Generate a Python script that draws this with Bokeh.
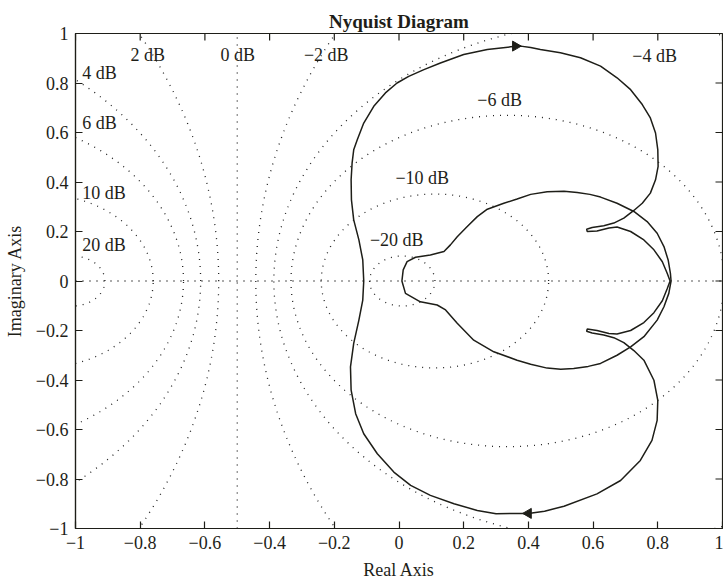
import numpy as np
from bokeh.plotting import figure
from bokeh.models import Range1d, FixedTicker, LinearAxis
from bokeh.core.properties import value
from bokeh.embed import file_html
from bokeh.resources import INLINE

title_text = "Nyquist Diagram"
x_label = "Real Axis"
y_label = "Imaginary Axis"
tick_values = [-1, -0.8, -0.6, -0.4, -0.2, 0, 0.2, 0.4, 0.6, 0.8, 1]
tick_labels = ["−1", "−0.8", "−0.6", "−0.4", "−0.2", "0", "0.2", "0.4", "0.6", "0.8", "1"]

# constant closed-loop magnitude contours (dB)
m_db = [20, 10, 6, 4, 2, 0, -2, -4, -6, -10, -20]
db_text = ["20 dB", "10 dB", "6 dB", "4 dB", "2 dB", "0 dB", "−2 dB", "−4 dB", "−6 dB", "−10 dB", "−20 dB"]
db_label_re = [-0.979, -0.979, -0.979, -0.979, -0.830, -0.552, -0.294, 0.721, 0.242, -0.011, -0.090]
db_label_im = [0.146, 0.356, 0.640, 0.842, 0.915, 0.915, 0.915, 0.908, 0.733, 0.416, 0.166]

# Nyquist curve, outer loop (upper half: left crossing -> top -> hairpin -> right crossing)
outer_upper_re = [-0.109, -0.112, -0.124, -0.140, -0.147, -0.148, -0.145, -0.140, -0.129, -0.109,
                  -0.078, -0.042, -0.006, 0.030, 0.077, 0.128, 0.200, 0.273, 0.345, 0.376,
                  0.407, 0.437, 0.499, 0.561, 0.623, 0.674, 0.716, 0.752, 0.777, 0.793,
                  0.800, 0.801, 0.793, 0.777, 0.752, 0.726, 0.695, 0.664, 0.633, 0.597,
                  0.580, 0.582, 0.612, 0.649, 0.674, 0.716, 0.757, 0.788, 0.814, 0.829, 0.838]
outer_upper_im = [0.000, 0.085, 0.166, 0.247, 0.328, 0.409, 0.476, 0.530, 0.571, 0.638,
                  0.706, 0.760, 0.800, 0.827, 0.854, 0.881, 0.915, 0.935, 0.946, 0.949,
                  0.943, 0.935, 0.922, 0.902, 0.868, 0.821, 0.773, 0.713, 0.659, 0.598,
                  0.530, 0.463, 0.409, 0.355, 0.314, 0.285, 0.254, 0.234, 0.223, 0.216,
                  0.209, 0.200, 0.202, 0.214, 0.218, 0.200, 0.166, 0.126, 0.078, 0.031, 0.000]
# outer loop, lower half (right crossing -> hairpin -> bottom -> left crossing)
outer_lower_re = [0.838, 0.829, 0.814, 0.788, 0.757, 0.716, 0.674, 0.649, 0.612, 0.582,
                  0.580, 0.597, 0.633, 0.664, 0.695, 0.726, 0.757, 0.788, 0.800, 0.798,
                  0.782, 0.746, 0.685, 0.612, 0.510, 0.450, 0.400, 0.300, 0.242, 0.170,
                  0.097, 0.036, -0.016, -0.067, -0.109, -0.134, -0.148, -0.150, -0.140, -0.124,
                  -0.112, -0.109]
outer_lower_im = [0.000, -0.031, -0.080, -0.128, -0.168, -0.200, -0.214, -0.212, -0.200, -0.194,
                  -0.203, -0.210, -0.218, -0.229, -0.249, -0.281, -0.320, -0.401, -0.482, -0.563,
                  -0.644, -0.725, -0.806, -0.860, -0.910, -0.930, -0.939, -0.940, -0.927, -0.900,
                  -0.866, -0.826, -0.772, -0.698, -0.617, -0.536, -0.441, -0.347, -0.252, -0.158,
                  -0.077, 0.000]
# inner lobe (upper: right crossing -> left crossing; lower: back)
inner_upper_re = [0.841, 0.839, 0.832, 0.819, 0.798, 0.767, 0.726, 0.674, 0.623, 0.590,
                  0.551, 0.510, 0.458, 0.407, 0.365, 0.324, 0.273, 0.242, 0.211, 0.180,
                  0.159, 0.139, 0.097, 0.051, 0.025, 0.013, 0.009]
inner_upper_im = [0.000, 0.031, 0.085, 0.139, 0.193, 0.240, 0.281, 0.314, 0.339, 0.350,
                  0.358, 0.363, 0.361, 0.350, 0.331, 0.314, 0.290, 0.260, 0.220, 0.179,
                  0.146, 0.119, 0.105, 0.096, 0.078, 0.045, 0.000]
inner_lower_re = [0.009, 0.020, 0.066, 0.118, 0.144, 0.180, 0.231, 0.293, 0.365, 0.407,
                  0.458, 0.500, 0.540, 0.585, 0.623, 0.674, 0.716, 0.757, 0.798, 0.819,
                  0.834, 0.841]
inner_lower_im = [0.000, -0.050, -0.084, -0.097, -0.117, -0.171, -0.239, -0.286, -0.320, -0.336,
                  -0.352, -0.357, -0.354, -0.345, -0.333, -0.300, -0.266, -0.225, -0.158, -0.104,
                  -0.050, 0.000]

# direction arrows
arrow_re = [0.360, 0.400]
arrow_im = [0.949, -0.939]
arrow_angle_deg = [-90, 90]

FONT = "Liberation Serif"
INK = "#1e1e18"
DOT = "#222222"

W, H = 723, 583
FL, FR, FT, FB = 75, 722, 33, 528      # frame edges (px)
px_x = 2.0 / (FR - FL)                 # data units per px
px_y = 2.0 / (FB - FT)

p = figure(width=W, height=H, x_range=Range1d(-1, 1), y_range=Range1d(-1, 1),
           output_backend="svg", toolbar_location=None, title=title_text,
           min_border_left=FL, min_border_right=W - FR, min_border_top=FT,
           min_border_bottom=H - FB)
p.title.align = "center"
p.title.vertical_align = "top"
p.title.text_font = FONT
p.title.text_font_size = "19px"
p.title.text_font_style = "bold"
p.title.text_color = INK
p.title.standoff = 0
p.grid.visible = False
p.outline_line_color = INK
p.outline_line_width = 1.2
p.background_fill_color = "white"
p.border_fill_color = "white"

xax = p.below[0]
yax = p.left[0]

ticker = FixedTicker(ticks=tick_values)
overrides = {v: s for v, s in zip(tick_values, tick_labels)}

for ax in (xax, yax):
    ax.ticker = ticker
    ax.major_label_overrides = overrides
    ax.major_label_text_font = FONT
    ax.major_label_text_font_size = "18px"
    ax.major_label_text_color = INK
    ax.axis_label_text_font = FONT
    ax.axis_label_text_font_size = "18px"
    ax.axis_label_text_font_style = "normal"
    ax.axis_label_text_color = INK
    ax.major_tick_in = 7
    ax.major_tick_out = 0
    ax.minor_tick_in = 0
    ax.minor_tick_out = 0
    ax.axis_line_color = INK
    ax.axis_line_width = 1.2
    ax.major_tick_line_color = INK
    ax.major_tick_line_width = 1.2
xax.axis_label = x_label
yax.axis_label = y_label
xax.major_label_standoff = 7
xax.axis_label_standoff = 8
yax.major_label_standoff = 7
yax.axis_label_standoff = 8

# an empty top axis (no ticks, no labels) that only keeps a small gap under the title
top_gap = LinearAxis(ticker=FixedTicker(ticks=[]), axis_line_color=None,
                     major_tick_in=0, major_tick_out=8, minor_tick_in=0, minor_tick_out=0,
                     major_label_standoff=0)
p.add_layout(top_gap, "above")

# inward ticks on the top and right edges of the box
tick_len_x = 7 * px_x
tick_len_y = 7 * px_y
tv = np.array(tick_values, dtype=float)
p.segment(x0=tv, y0=np.full_like(tv, 1.0), x1=tv, y1=np.full_like(tv, 1.0 - tick_len_y),
          line_color=INK, line_width=1.2)
p.segment(x0=np.full_like(tv, 1.0), y0=tv, x1=np.full_like(tv, 1.0 - tick_len_x), y1=tv,
          line_color=INK, line_width=1.2)

# M-circle grid
theta = np.linspace(0, 2 * np.pi, 1441)
for db in m_db:
    if db == 0:
        p.line([-0.5, -0.5], [-1.0, 1.0], line_color=DOT, line_width=1.3, line_dash="1 6")
        continue
    M = 10 ** (db / 20.0)
    c = -M * M / (M * M - 1)
    r = abs(M / (M * M - 1))
    p.line(c + r * np.cos(theta), r * np.sin(theta), line_color=DOT, line_width=1.3,
           line_dash="1 6")
p.line([-1, 1], [0, 0], line_color=DOT, line_width=1.3, line_dash="1 6")

p.text(x=db_label_re, y=db_label_im, text=db_text, text_font=value(FONT),
       text_font_size=value("18px"), text_baseline="middle", text_align="left",
       text_color=INK)

# Nyquist curve
p.line(outer_upper_re + outer_lower_re, outer_upper_im + outer_lower_im,
       line_color=INK, line_width=1.5)
p.line(inner_upper_re + inner_lower_re, inner_upper_im + inner_lower_im,
       line_color=INK, line_width=1.5)
p.scatter(x=arrow_re, y=arrow_im, marker="triangle", size=10,
          angle=[np.deg2rad(a) for a in arrow_angle_deg], fill_color=INK, line_color=INK)

open("out.html", "w").write(file_html(p, INLINE))
